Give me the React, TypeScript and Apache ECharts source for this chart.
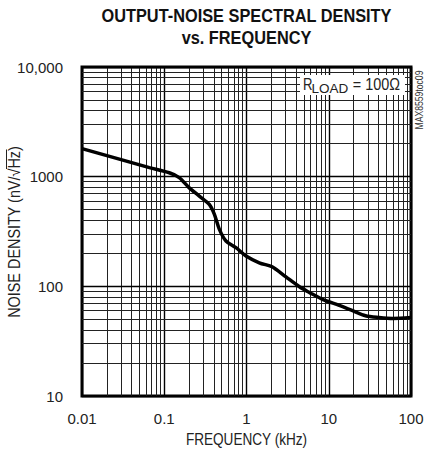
import React, { useEffect, useRef } from "react";
import * as echarts from "echarts";

// ---- data ----
const freqKHz = [0.01, 0.066, 0.115, 0.152, 0.2, 0.267, 0.353, 0.406, 0.468, 0.563, 0.745, 0.986, 1.43, 2.0, 2.28, 3.02, 4.4, 5.8, 8.4, 13.4, 19.5, 28, 41, 60, 100];
const noise = [1800, 1210, 1085, 980, 795, 665, 558, 455, 331, 259, 225, 189, 164, 152, 143, 122, 99, 88, 76, 67, 60, 54, 52, 51, 52];

const xMajor = [0.01, 0.1, 1, 10, 100];
const xTickLabels = ["0.01", "0.1", "1", "10", "100"];
const yMajor = [10, 100, 1000, 10000];
const yTickLabels = ["10", "100", "1000", "10,000"];
const minorMultiples = [2, 3, 4, 5, 6, 7, 8, 9];

const titleLines = ["OUTPUT-NOISE SPECTRAL DENSITY", "vs. FREQUENCY"];
const xTitle = "FREQUENCY (kHz)";
const yTitle = "NOISE DENSITY (nV/√Hz)";
const sideNote = "MAX8559toc09";

const FONT = "'Liberation Sans', Arial, sans-serif";
const NARROW = 0.82;

function matchIndex(list: number[], v: number) {
  return list.findIndex((m) => Math.abs(Math.log10(m) - Math.log10(v)) < 1e-6);
}

export default function App() {
  const ref = useRef<HTMLDivElement>(null);
  useEffect(() => {
    if (!ref.current) return;
    const chart = echarts.init(ref.current, undefined, { renderer: "svg" });

    const gridLines: any[] = [];
    xMajor.forEach((d, i) => {
      gridLines.push({ xAxis: d, lineStyle: { width: 1.4, color: "#000" } });
      if (i < xMajor.length - 1)
        minorMultiples.forEach((m) => gridLines.push({ xAxis: d * m, lineStyle: { width: 1, color: "#222" } }));
    });
    yMajor.forEach((d, i) => {
      gridLines.push({ yAxis: d, lineStyle: { width: 1.4, color: "#000" } });
      if (i < yMajor.length - 1)
        minorMultiples.forEach((m) => gridLines.push({ yAxis: d * m, lineStyle: { width: 1, color: "#222" } }));
    });

    const L = 82, T = 67, W = 329, H = 329;

    const txt = (x: number, y: number, text: string, size: number, extra: any = {}, styleExtra: any = {}) => ({
      type: "text",
      x,
      y,
      z: 100,
      scaleX: NARROW,
      ...extra,
      style: { text, fontFamily: FONT, fontSize: size, fill: "#222", align: "center", verticalAlign: "middle", ...styleExtra },
    });

    chart.setOption({
      animation: false,
      backgroundColor: "#fff",
      grid: { left: L, top: T, width: W, height: H, show: true, borderColor: "#000", borderWidth: 3, backgroundColor: "#fff", z: 0 },
      xAxis: {
        type: "log",
        logBase: 10,
        min: 0.01,
        max: 100,
        splitNumber: 4,
        axisLine: { show: false },
        axisTick: { show: false },
        splitLine: { show: false },
        axisLabel: {
          margin: 15,
          fontSize: 15,
          color: "#222",
          fontFamily: FONT,
          formatter: (v: number) => {
            const i = matchIndex(xMajor, v);
            return i >= 0 ? xTickLabels[i] : "";
          },
        },
      },
      yAxis: {
        type: "log",
        logBase: 10,
        min: 10,
        max: 10000,
        splitNumber: 3,
        axisLine: { show: false },
        axisTick: { show: false },
        splitLine: { show: false },
        axisLabel: {
          margin: 19,
          fontSize: 15,
          color: "#222",
          fontFamily: FONT,
          formatter: (v: number) => {
            const i = matchIndex(yMajor, v);
            return i >= 0 ? yTickLabels[i] : "";
          },
        },
      },
      series: [
        {
          type: "line",
          data: [],
          silent: true,
          z: 1,
          markLine: {
            silent: true,
            symbol: ["none", "none"],
            label: { show: false },
            lineStyle: { type: "solid", color: "#222", width: 1 },
            data: gridLines,
            animation: false,
          },
        },
        {
          type: "line",
          data: freqKHz.map((f, i) => [f, noise[i]]),
          showSymbol: false,
          smooth: 0.3,
          z: 5,
          lineStyle: { color: "#000", width: 3.5 },
        },
      ],
      graphic: [
        txt(246.5, 16, titleLines[0], 19, { scaleX: 0.86 }, { fontWeight: "bold", fill: "#111" }),
        txt(246.5, 37.5, titleLines[1], 19, { scaleX: 0.86 }, { fontWeight: "bold", fill: "#111" }),
        txt(246.5, 440, xTitle, 16, { scaleX: 0.85 }),
        txt(14, 232, yTitle, 16, { rotation: Math.PI / 2, scaleX: 0.9 }),
        { type: "line", z: 100, shape: { x1: 6.5, y1: 149.5, x2: 6.5, y2: 169 }, style: { stroke: "#222", lineWidth: 1 } },
        txt(419, 100, sideNote, 10.5, { rotation: Math.PI / 2 }, { fill: "#333" }),
        { type: "rect", z: 90, shape: { x: 300, y: 75, width: 105, height: 20 }, style: { fill: "#fff" } },
        txt(303, 92.5, "R", 16, {}, { align: "left", verticalAlign: "bottom" }),
        txt(311.5, 95.5, "LOAD", 13.5, { scaleX: 1 }, { align: "left", verticalAlign: "bottom" }),
        txt(400, 92.5, "= 100Ω", 16, { scaleX: 0.9 }, { align: "right", verticalAlign: "bottom" }),
      ],
    });
    return () => chart.dispose();
  }, []);
  return <div ref={ref} style={{ position: "fixed", left: 0, top: 0, width: 427, height: 457 }} />;
}
